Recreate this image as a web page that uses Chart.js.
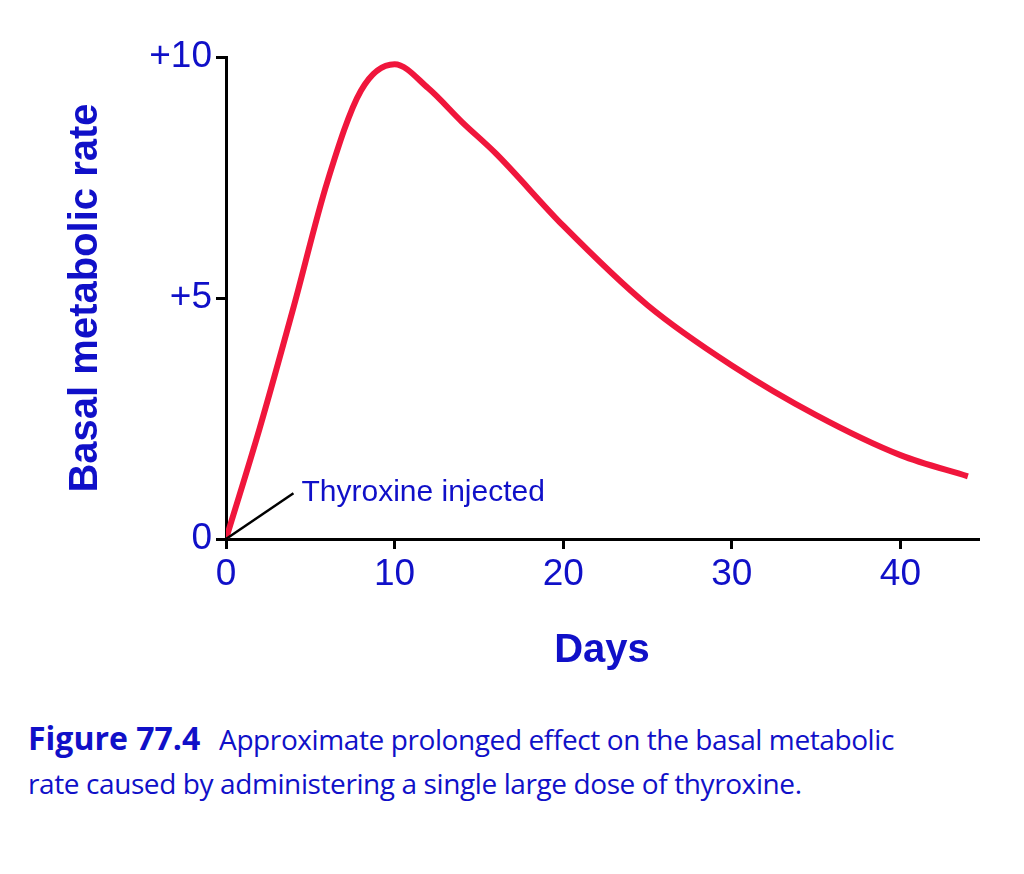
<!DOCTYPE html>
<html>
<head>
<meta charset="utf-8">
<script src="https://cdn.jsdelivr.net/npm/chart.js@4"></script>
<style>
body { margin: 0; background: #fff; width: 1024px; height: 874px; overflow: hidden; }
#wrap { position: absolute; left: 0; top: 0; width: 1024px; height: 700px; }
#cap { position: absolute; left: 28px; top: 716px; width: 1000px; font-family: "Open Sans", sans-serif; font-size: 28px; line-height: 44px; color: #1010c8; letter-spacing: -0.4px; white-space: nowrap; }
#cap b { font-size: 32px; margin-right: 12px; letter-spacing: 0; }
</style>
</head>
<body>
<div id="wrap"><canvas id="c"></canvas></div>
<div id="cap"><b>Figure 77.4</b> Approximate prolonged effect on the basal metabolic<br>rate caused by administering a single large dose of thyroxine.</div>
<script>
// --- DATA ---
const days = [0, 2, 4, 6, 8, 10, 12, 14, 16, 20, 25, 30, 35, 40, 44];
const bmr = [0, 2.3, 4.8, 7.4, 9.3, 9.85, 9.35, 8.65, 8.0, 6.5, 4.85, 3.6, 2.57, 1.74, 1.3];
const yTicks = [0, 5, 10];
const yTickLabels = ['0', '+5', '+10'];
const noteText = 'Thyroxine injected';
const noteAt = [4, 0.95];

const BLUE = '#1010c8';
const FONT = '"Liberation Sans", Arial, sans-serif';

// leader line + label
const notePlugin = {
  id: 'note',
  afterDatasetsDraw(chart) {
    const { ctx, scales: { x, y } } = chart;
    const x0 = x.getPixelForValue(0), y0 = y.getPixelForValue(0);
    const x1 = x.getPixelForValue(noteAt[0]), y1 = y.getPixelForValue(noteAt[1]);
    ctx.save();
    ctx.strokeStyle = '#000';
    ctx.lineWidth = 2.5;
    ctx.beginPath();
    ctx.moveTo(x0, y0);
    ctx.lineTo(x1, y1);
    ctx.stroke();
    ctx.fillStyle = BLUE;
    ctx.font = '30px ' + FONT;
    ctx.textBaseline = 'middle';
    ctx.fillText(noteText, x1 + 8, y1);
    ctx.restore();
  }
};

new Chart(document.getElementById('c'), {
  type: 'scatter',
  data: {
    datasets: [{
      data: days.map((d, i) => ({ x: d, y: bmr[i] })),
      showLine: true,
      borderColor: '#f0163c',
      borderWidth: 6,
      pointRadius: 0,
      cubicInterpolationMode: 'monotone'
    }]
  },
  options: {
    responsive: true,
    maintainAspectRatio: false,
    animation: false,
    layout: { padding: { left: 0, right: 46, top: 57, bottom: 0 } },
    plugins: { legend: { display: false }, tooltip: { enabled: false } },
    scales: {
      x: {
        type: 'linear', min: 0, max: 44.6,
        afterBuildTicks: s => { s.ticks = [0, 10, 20, 30, 40].map(v => ({ value: v })); },
        afterFit: s => { s.height = 161; },
        grid: { display: true, drawOnChartArea: false, drawTicks: true, tickLength: 10, lineWidth: 3, color: '#000' },
        border: { color: '#000', width: 3 },
        ticks: { color: BLUE, font: { size: 37, family: FONT }, padding: 4, maxRotation: 0 },
        title: { display: true, text: 'Days', color: BLUE, font: { size: 40, weight: 'bold', family: FONT }, padding: { top: 0, bottom: 25 } }
      },
      y: {
        min: 0, max: 10,
        afterBuildTicks: s => { s.ticks = yTicks.map(v => ({ value: v })); },
        afterFit: s => { s.width = 226; },
        grid: { display: true, drawOnChartArea: false, drawTicks: true, tickLength: 10, lineWidth: 3, color: '#000' },
        border: { color: '#000', width: 3 },
        ticks: {
          color: BLUE, font: { size: 37, family: FONT }, padding: 4,
          callback: v => yTickLabels[yTicks.indexOf(v)]
        },
        title: { display: true, text: 'Basal metabolic rate', color: BLUE, font: { size: 40, weight: 'bold', family: FONT }, padding: { top: 62, bottom: 0 } }
      }
    }
  },
  plugins: [notePlugin]
});
</script>
</body>
</html>
